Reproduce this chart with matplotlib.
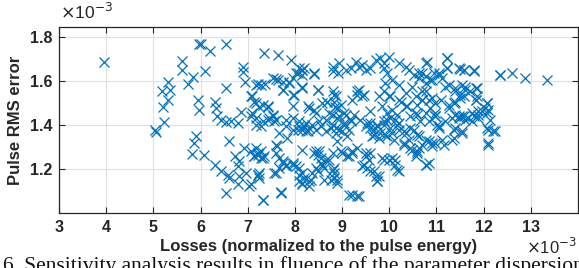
import matplotlib

matplotlib.use("Agg")
import matplotlib.pyplot as plt

# values are in units of 1e-3
losses = [
    3.96, 5.03, 5.06, 5.22, 5.20, 5.19, 5.31, 5.32, 5.36, 5.61, 5.61, 5.74, 5.84, 5.82, 5.87, 5.91, 5.96, 5.94, 5.96,
    6.01, 6.2, 6.54, 6.1, 6.91, 6.91, 6.94, 6.54, 7.35, 7.65, 7.92, 7.21, 7.37, 7.6, 7.74, 7.88, 8.02, 8.15, 7.95,
    6.3, 6.32, 6.35, 6.44, 6.54, 6.65, 6.79, 6.86, 7.07, 7.14, 7.25, 7.42, 7.07, 7.18, 7.28, 7.42, 7.53, 7.6,
    7.67, 7.84, 8.06, 8.2, 8.27, 6.08, 6.3, 6.44, 6.58, 6.61, 6.82, 6.54, 6.79, 6.61, 6.72, 6.82, 6.79, 6.93,
    7.07, 7.14, 7.21, 7.28, 7.35, 6.96, 7.21, 7.25, 7.03, 7.32, 7.6, 7.67, 7.74, 7.81, 7.95, 8.02, 7.6, 7.71,
    8.09, 8.16, 7.81, 7.95, 8.09, 8.23,
    8.16, 8.16, 8.41, 8.48, 8.8, 8.3, 8.41, 8.58, 8.69, 8.83, 8.86, 8.8, 8.94, 9.08, 9.18, 9.04, 8.94, 9.15, 9.11,
    8.16, 8.3, 8.44, 8.55, 8.66, 8.76, 8.87, 9.0, 9.36, 9.32, 9.43,
    8.8, 8.94, 8.91, 9.08, 9.18, 9.29, 9.36, 9.43, 9.5, 9.6, 9.71, 9.81, 9.88, 9.99, 9.88, 9.95,
    10.2, 10.35, 10.42, 10.52, 10.63, 10.77, 10.77, 10.87, 10.94,
    9.5, 9.6, 9.68, 9.74, 9.81, 9.88, 9.95, 10.02, 9.64, 9.78, 9.92, 10.06, 10.13, 10.2,
    9.92, 10.06, 10.2, 9.78, 9.99, 10.2, 10.35, 10.49, 10.56, 10.7, 10.84, 10.98, 9.85, 10.06, 10.35, 10.56,
    10.77, 10.98,
    10.2, 10.35, 10.42, 10.52, 10.63, 10.77, 10.91, 10.31,
    9.0, 9.15, 9.22, 9.5, 9.57, 9.43, 9.6, 9.71, 9.74, 9.85, 9.99, 10.13, 10.2, 10.49, 10.6, 10.77, 9.15, 9.32,
    8.16, 8.16, 8.3, 8.41, 8.51, 8.55, 8.48, 8.62, 8.73, 8.8, 8.83, 8.9, 8.34, 8.62, 8.8,
    11.23, 11.23, 11.51, 11.58, 11.79, 12.35, 12.6, 12.88, 13.34,
    11.05, 11.12, 11.26, 11.4, 11.54, 11.61, 11.72, 11.86, 11.83, 11.51, 11.37, 11.26,
    12.07, 12.03, 11.96, 11.89, 11.79, 11.68, 11.58, 11.47, 12.07, 12.14, 12.1, 12.25, 12.1, 11.54, 11.37,
    11.16, 10.91, 11.33, 11.05, 10.98, 10.84,
    8.09, 8.2, 8.06, 8.16, 8.41, 7.95, 7.88, 7.74, 7.99, 8.16, 7.28, 7.53, 7.64, 7.74, 7.18, 8.48, 8.69,
    8.83, 8.8, 7.95, 8.27, 8.44, 8.73, 7.1, 7.18, 7.32, 7.42, 7.1, 7.53,
    7.18, 7.32, 7.46, 7.56, 7.81, 7.95, 8.09, 8.23, 8.37, 8.51, 8.66, 8.8, 8.87,
    7.18, 7.21, 7.14, 7.28, 7.32, 7.63, 7.6, 7.74, 7.81, 7.95, 8.09, 7.67, 7.56, 8.09, 8.2, 8.44, 8.48, 8.55,
    8.66, 8.58, 8.44, 8.37, 8.3, 8.16, 8.76, 8.83, 7.21, 7.25, 7.07, 7.32, 7.71,
    8.87, 8.97, 9.22, 9.32, 9.46, 9.88, 10.02, 10.24, 10.38, 10.59, 10.7,
    8.9, 9.04, 9.25, 9.6, 9.95, 10.17, 10.45, 10.59,
    8.9, 9.04, 9.18, 9.39, 9.53, 9.6, 9.74, 9.88, 10.02, 10.17, 10.31, 10.45, 10.59, 10.66, 9.67, 9.95, 10.1,
    10.31, 10.45, 10.59, 10.56,
    8.9, 8.97, 9.11, 9.22, 9.32, 9.5, 9.6, 9.46, 9.53, 9.67, 9.78, 9.74, 9.88, 10.06, 10.13, 10.17, 8.83, 8.9,
    9.22, 9.36,
    10.8, 11.23, 11.23, 11.05, 11.47, 11.58, 11.79, 12.35, 10.7, 10.91, 10.77, 10.63,
    11.19, 11.4, 11.51, 11.61, 11.83, 11.86, 11.58, 11.4, 11.26, 11.09, 10.91, 10.77, 10.7, 10.87, 10.98,
    11.83, 12.07, 12.1, 11.89, 11.75, 11.54, 11.4,
    10.84, 11.01, 11.05, 11.19, 11.33, 11.47, 11.61, 11.75, 11.89, 12.07, 12.21, 12.1, 11.4, 11.54, 11.37,
    11.12, 10.98, 10.84, 10.7, 10.63, 10.77,
]
rms_error = [
    1.689, 1.375, 1.37, 1.412, 1.482, 1.557, 1.515, 1.598, 1.56, 1.692, 1.651, 1.588, 1.62, 1.27, 1.318, 1.348, 1.77, 1.515, 1.47,
    1.77, 1.735, 1.768, 1.644, 1.666, 1.643, 1.598, 1.568, 1.727, 1.72, 1.694, 1.588, 1.588, 1.609, 1.56, 1.598, 1.636, 1.651, 1.538,
    1.507, 1.477, 1.439, 1.424, 1.412, 1.416, 1.409, 1.457, 1.53, 1.507, 1.482, 1.482, 1.439, 1.401, 1.394, 1.424, 1.439, 1.424,
    1.364, 1.341, 1.379, 1.394, 1.371, 1.265, 1.22, 1.189, 1.174, 1.159, 1.166, 1.091, 1.129, 1.325, 1.257, 1.235, 1.212, 1.296,
    1.28, 1.257, 1.265, 1.25, 1.257, 1.182, 1.174, 1.182, 1.121, 1.06, 1.31, 1.25, 1.227, 1.212, 1.227, 1.212, 1.182, 1.091,
    1.174, 1.136, 1.394, 1.379, 1.394, 1.371,
    1.651, 1.575, 1.636, 1.56, 1.553, 1.477, 1.47, 1.5, 1.507, 1.507, 1.482, 1.447, 1.439, 1.447, 1.424, 1.409, 1.379, 1.379, 1.348,
    1.379, 1.386, 1.379, 1.394, 1.371, 1.386, 1.364, 1.371, 1.56, 1.538, 1.53,
    1.666, 1.682, 1.636, 1.651, 1.659, 1.689, 1.666, 1.674, 1.651, 1.659, 1.697, 1.705, 1.682, 1.712, 1.659, 1.636,
    1.682, 1.666, 1.651, 1.628, 1.636, 1.682, 1.621, 1.606, 1.636,
    1.394, 1.409, 1.379, 1.394, 1.364, 1.401, 1.424, 1.386, 1.348, 1.341, 1.356, 1.364, 1.424, 1.409,
    1.591, 1.606, 1.583, 1.53, 1.53, 1.515, 1.545, 1.575, 1.53, 1.553, 1.515, 1.5, 1.485, 1.47, 1.485, 1.455,
    1.455, 1.439,
    1.379, 1.364, 1.333, 1.379, 1.348, 1.333, 1.318, 1.318,
    1.273, 1.257, 1.28, 1.273, 1.242, 1.212, 1.189, 1.166, 1.144, 1.25, 1.242, 1.219, 1.189, 1.288, 1.273, 1.219, 1.083, 1.076,
    1.288, 1.182, 1.121, 1.273, 1.28, 1.227, 1.189, 1.204, 1.242, 1.197, 1.159, 1.136, 1.151, 1.151, 1.273,
    1.705, 1.659, 1.655, 1.651, 1.648, 1.629, 1.639, 1.614, 1.603,
    1.636, 1.614, 1.583, 1.568, 1.583, 1.56, 1.553, 1.568, 1.515, 1.523, 1.5, 1.477,
    1.5, 1.477, 1.462, 1.447, 1.439, 1.432, 1.439, 1.432, 1.455, 1.424, 1.379, 1.371, 1.31, 1.364, 1.379,
    1.31, 1.303, 1.333, 1.394, 1.439, 1.227,
    1.659, 1.659, 1.636, 1.629, 1.632, 1.614, 1.591, 1.56, 1.538, 1.568, 1.583, 1.614, 1.606, 1.598, 1.583, 1.56, 1.507,
    1.538, 1.644, 1.485, 1.485, 1.455, 1.455, 1.53, 1.5, 1.492, 1.485, 1.455, 1.447,
    1.432, 1.416, 1.432, 1.416, 1.424, 1.432, 1.416, 1.409, 1.401, 1.416, 1.424, 1.401, 1.386,
    1.296, 1.273, 1.257, 1.28, 1.25, 1.303, 1.273, 1.235, 1.22, 1.22, 1.205, 1.205, 1.182, 1.144, 1.159, 1.28, 1.265, 1.25,
    1.242, 1.22, 1.205, 1.182, 1.144, 1.129, 1.151, 1.182, 1.174, 1.159, 1.129, 1.06, 1.094,
    1.53, 1.492, 1.515, 1.553, 1.538, 1.553, 1.53, 1.507, 1.485, 1.492, 1.515,
    1.477, 1.455, 1.447, 1.462, 1.455, 1.447, 1.439, 1.447,
    1.432, 1.401, 1.416, 1.424, 1.409, 1.386, 1.401, 1.416, 1.432, 1.401, 1.371, 1.386, 1.356, 1.416, 1.356, 1.348, 1.333,
    1.31, 1.295, 1.28, 1.257,
    1.325, 1.28, 1.257, 1.273, 1.296, 1.257, 1.273, 1.22, 1.205, 1.189, 1.167, 1.144, 1.242, 1.25, 1.242, 1.197, 1.205, 1.151,
    1.083, 1.076,
    1.686, 1.705, 1.659, 1.629, 1.659, 1.651, 1.651, 1.629, 1.636, 1.606, 1.591, 1.614,
    1.575, 1.553, 1.538, 1.575, 1.568, 1.53, 1.53, 1.507, 1.492, 1.515, 1.523, 1.553, 1.515, 1.477, 1.455,
    1.515, 1.5, 1.47, 1.462, 1.455, 1.439, 1.447,
    1.416, 1.401, 1.386, 1.416, 1.432, 1.439, 1.424, 1.416, 1.432, 1.386, 1.371, 1.318, 1.386, 1.371, 1.341,
    1.333, 1.318, 1.325, 1.31, 1.295, 1.22,
]

x_ticks = [3, 4, 5, 6, 7, 8, 9, 10, 11, 12, 13]
y_ticks = [1.2, 1.4, 1.6, 1.8]

BLUE = "#0072BD"
DARK = "#262626"

plt.rcParams["font.family"] = ["Liberation Sans", "DejaVu Sans"]

fig = plt.figure(figsize=(5.79, 2.68), dpi=100)
ax = fig.add_axes([0.102, 0.206, 0.896, 0.692])

ax.plot(losses, rms_error, linestyle="none", marker="x", color=BLUE,
        markersize=7.5, markeredgewidth=0.9)

ax.set_xlim(3, 14)
ax.set_ylim(1.0, 1.845)
ax.set_xticks(x_ticks)
ax.set_yticks(y_ticks)
ax.set_yticklabels([f"{v:.1f}" for v in y_ticks])
ax.grid(True, color="#e0e0e0", linewidth=0.8)
ax.set_axisbelow(True)
ax.tick_params(direction="in", length=4, width=0.8, color=DARK, labelcolor=DARK,
               labelsize=11.5, top=True, right=True, pad=5)
for lab in ax.get_xticklabels() + ax.get_yticklabels():
    lab.set_fontweight("bold")
for sp in ax.spines.values():
    sp.set_color(DARK)
    sp.set_linewidth(0.9)

ax.set_xlabel("Losses (normalized to the pulse energy)", fontsize=12, fontweight="bold",
              color=DARK, labelpad=3)
ax.set_ylabel("Pulse RMS error", fontsize=12, fontweight="bold", color=DARK, labelpad=5)

fig.text(0.103, 0.955, r"$\times$10$^{-3}$", fontsize=12.5, color=DARK, va="center", ha="left")
fig.text(0.997, 0.078, r"$\times$10$^{-3}$", fontsize=12, color=DARK, va="center", ha="right")

fig.text(0.005, 0.045, "6. Sensitivity analysis results in fluence of the parameter dispersion",
         family=["Liberation Serif", "DejaVu Serif"], fontsize=15.5, color="#111111", va="top", ha="left")

fig.savefig("out.png", dpi=100)
plt.close(fig)
